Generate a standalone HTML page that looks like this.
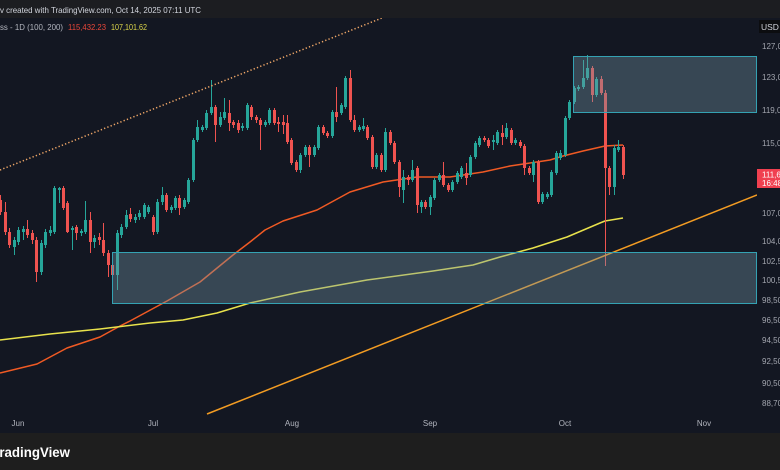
<!DOCTYPE html>
<html><head><meta charset="utf-8"><style>
html,body{margin:0;padding:0;background:#131722;}
svg{display:block;}
text{font-family:"Liberation Sans",sans-serif;}
</style></head><body>
<svg width="780" height="470" viewBox="0 0 780 470" xmlns="http://www.w3.org/2000/svg">
<rect x="0" y="0" width="780" height="470" fill="#131722"/>
<defs><clipPath id="cp"><rect x="0" y="18" width="757" height="415"/></clipPath></defs>

<g clip-path="url(#cp)">
<!-- MA lines -->
<polyline fill="none" stroke="#f05a24" stroke-width="1.5" stroke-linejoin="round" points="0,373 37,364 67,348 100,337 120,326 130,321 167,301 200,282 233,255 250,242 265,230 283,221 317,210 350,192 383,182 417,177 450,177 483,172 510,166 550,160 563,156 583,151 605,146 623,145"/>
<polyline fill="none" stroke="#e8e24c" stroke-width="1.5" stroke-linejoin="round" points="0,340 50,334 100,329 150,323 183,320 217,313 250,303 300,292 367,280 433,271 473,265 500,257 533,248 567,237 600,223 605,221 623,218"/>

<!-- candles teal -->
<g fill="#26a69a">
<rect x="14" y="237" width="1" height="18"/><rect x="13" y="240" width="3" height="7"/>
<rect x="18" y="227" width="1" height="18"/><rect x="17" y="230" width="3" height="12"/>
<rect x="23" y="226" width="1" height="14"/><rect x="22" y="229" width="3" height="3"/>
<rect x="41" y="240" width="1" height="35"/><rect x="40" y="243" width="3" height="29"/>
<rect x="45" y="229" width="1" height="19"/><rect x="44" y="232" width="3" height="13"/>
<rect x="50" y="226" width="1" height="10"/><rect x="49" y="230" width="3" height="3"/>
<rect x="54" y="186" width="1" height="48"/><rect x="53" y="188" width="3" height="44"/>
<rect x="59" y="187" width="1" height="16"/><rect x="58" y="188" width="3" height="2"/>
<rect x="72" y="226" width="1" height="24"/><rect x="71" y="228" width="3" height="2"/>
<rect x="81" y="229" width="1" height="7"/><rect x="80" y="231" width="3" height="2"/>
<rect x="85" y="201" width="1" height="33"/><rect x="84" y="220" width="3" height="12"/>
<rect x="94" y="235" width="1" height="13"/><rect x="93" y="238" width="3" height="4"/>
<rect x="117" y="230" width="1" height="60"/><rect x="116" y="233" width="3" height="42"/>
<rect x="121" y="224" width="1" height="14"/><rect x="120" y="227" width="3" height="8"/>
<rect x="126" y="210" width="1" height="19"/><rect x="125" y="215" width="3" height="12"/>
<rect x="135" y="214" width="1" height="9"/><rect x="134" y="217" width="3" height="3"/>
<rect x="139" y="210" width="1" height="10"/><rect x="138" y="213" width="3" height="4"/>
<rect x="144" y="203" width="1" height="16"/><rect x="143" y="205" width="3" height="12"/>
<rect x="148" y="205" width="1" height="9"/><rect x="147" y="207" width="3" height="5"/>
<rect x="157" y="199" width="1" height="35"/><rect x="156" y="202" width="3" height="30"/>
<rect x="162" y="187" width="1" height="18"/><rect x="161" y="195" width="3" height="7"/>
<rect x="171" y="205" width="1" height="8"/><rect x="170" y="207" width="3" height="3"/>
<rect x="175" y="196" width="1" height="14"/><rect x="174" y="198" width="3" height="10"/>
<rect x="184" y="198" width="1" height="11"/><rect x="183" y="200" width="3" height="7"/>
<rect x="188" y="178" width="1" height="26"/><rect x="187" y="180" width="3" height="22"/>
<rect x="193" y="138" width="1" height="44"/><rect x="192" y="140" width="3" height="40"/>
<rect x="197" y="120" width="1" height="22"/><rect x="196" y="127" width="3" height="13"/>
<rect x="202" y="125" width="1" height="7"/><rect x="201" y="127" width="3" height="3"/>
<rect x="206" y="110" width="1" height="20"/><rect x="205" y="113" width="3" height="15"/>
<rect x="211" y="80" width="1" height="35"/><rect x="210" y="107" width="3" height="6"/>
<rect x="220" y="112" width="1" height="15"/><rect x="219" y="117" width="3" height="8"/>
<rect x="224" y="98" width="1" height="22"/><rect x="223" y="112" width="3" height="6"/>
<rect x="242" y="123" width="1" height="8"/><rect x="241" y="126" width="3" height="2"/>
<rect x="247" y="103" width="1" height="27"/><rect x="246" y="105" width="3" height="23"/>
<rect x="265" y="120" width="1" height="7"/><rect x="264" y="122" width="3" height="3"/>
<rect x="269" y="108" width="1" height="17"/><rect x="268" y="110" width="3" height="13"/>
<rect x="300" y="153" width="1" height="20"/><rect x="299" y="155" width="3" height="15"/>
<rect x="305" y="145" width="1" height="12"/><rect x="304" y="147" width="3" height="8"/>
<rect x="314" y="145" width="1" height="12"/><rect x="313" y="147" width="3" height="8"/>
<rect x="318" y="125" width="1" height="25"/><rect x="317" y="127" width="3" height="21"/>
<rect x="332" y="110" width="1" height="28"/><rect x="331" y="112" width="3" height="24"/>
<rect x="341" y="103" width="1" height="12"/><rect x="340" y="105" width="3" height="8"/>
<rect x="345" y="76" width="1" height="33"/><rect x="344" y="78" width="3" height="29"/>
<rect x="359" y="125" width="1" height="7"/><rect x="358" y="127" width="3" height="3"/>
<rect x="363" y="118" width="1" height="13"/><rect x="362" y="126" width="3" height="3"/>
<rect x="376" y="153" width="1" height="16"/><rect x="375" y="155" width="3" height="12"/>
<rect x="385" y="128" width="1" height="44"/><rect x="384" y="132" width="3" height="38"/>
<rect x="403" y="170" width="1" height="33"/><rect x="402" y="177" width="3" height="13"/>
<rect x="412" y="160" width="1" height="22"/><rect x="411" y="170" width="3" height="10"/>
<rect x="421" y="200" width="1" height="13"/><rect x="420" y="202" width="3" height="5"/>
<rect x="430" y="195" width="1" height="20"/><rect x="429" y="197" width="3" height="10"/>
<rect x="434" y="178" width="1" height="22"/><rect x="433" y="180" width="3" height="18"/>
<rect x="439" y="173" width="1" height="9"/><rect x="438" y="175" width="3" height="5"/>
<rect x="452" y="180" width="1" height="12"/><rect x="451" y="182" width="3" height="8"/>
<rect x="457" y="171" width="1" height="13"/><rect x="456" y="173" width="3" height="9"/>
<rect x="461" y="166" width="1" height="13"/><rect x="460" y="168" width="3" height="9"/>
<rect x="470" y="155" width="1" height="22"/><rect x="469" y="157" width="3" height="18"/>
<rect x="475" y="141" width="1" height="18"/><rect x="474" y="143" width="3" height="14"/>
<rect x="479" y="136" width="1" height="11"/><rect x="478" y="138" width="3" height="7"/>
<rect x="493" y="135" width="1" height="15"/><rect x="492" y="140" width="3" height="2"/>
<rect x="497" y="130" width="1" height="15"/><rect x="496" y="132" width="3" height="11"/>
<rect x="506" y="123" width="1" height="16"/><rect x="505" y="128" width="3" height="9"/>
<rect x="515" y="138" width="1" height="7"/><rect x="514" y="140" width="3" height="3"/>
<rect x="533" y="160" width="1" height="22"/><rect x="532" y="162" width="3" height="13"/>
<rect x="542" y="192" width="1" height="12"/><rect x="541" y="194" width="3" height="8"/>
<rect x="547" y="192" width="1" height="7"/><rect x="546" y="194" width="3" height="3"/>
<rect x="551" y="170" width="1" height="27"/><rect x="550" y="172" width="3" height="23"/>
<rect x="556" y="151" width="1" height="24"/><rect x="555" y="153" width="3" height="20"/>
<rect x="560" y="150" width="1" height="10"/><rect x="559" y="153" width="3" height="5"/>
<rect x="565" y="116" width="1" height="41"/><rect x="564" y="118" width="3" height="37"/>
<rect x="569" y="100" width="1" height="20"/><rect x="568" y="102" width="3" height="16"/>
<rect x="574" y="86" width="1" height="18"/><rect x="573" y="88" width="3" height="14"/>
<rect x="578" y="85" width="1" height="6"/><rect x="577" y="87" width="3" height="2"/>
<rect x="583" y="60" width="1" height="29"/><rect x="582" y="78" width="3" height="9"/>
<rect x="587" y="55" width="1" height="25"/><rect x="586" y="68" width="3" height="10"/>
<rect x="596" y="77" width="1" height="20"/><rect x="595" y="79" width="3" height="16"/>
<rect x="614" y="145" width="1" height="50"/><rect x="613" y="148" width="3" height="39"/>
<rect x="618" y="140" width="1" height="12"/><rect x="617" y="147" width="3" height="3"/>
</g>
<!-- candles red -->
<g fill="#ef5350">
<rect x="0" y="195" width="1" height="20"/><rect x="-1" y="200" width="3" height="12"/>
<rect x="5" y="202" width="1" height="33"/><rect x="4" y="212" width="3" height="20"/>
<rect x="9" y="228" width="1" height="20"/><rect x="8" y="232" width="3" height="13"/>
<rect x="27" y="220" width="1" height="18"/><rect x="26" y="229" width="3" height="6"/>
<rect x="32" y="230" width="1" height="14"/><rect x="31" y="233" width="3" height="7"/>
<rect x="36" y="237" width="1" height="45"/><rect x="35" y="240" width="3" height="32"/>
<rect x="63" y="186" width="1" height="24"/><rect x="62" y="188" width="3" height="20"/>
<rect x="67" y="201" width="1" height="32"/><rect x="66" y="203" width="3" height="29"/>
<rect x="76" y="225" width="1" height="15"/><rect x="75" y="227" width="3" height="6"/>
<rect x="90" y="212" width="1" height="41"/><rect x="89" y="220" width="3" height="22"/>
<rect x="99" y="233" width="1" height="12"/><rect x="98" y="237" width="3" height="3"/>
<rect x="103" y="223" width="1" height="33"/><rect x="102" y="240" width="3" height="13"/>
<rect x="108" y="250" width="1" height="27"/><rect x="107" y="253" width="3" height="12"/>
<rect x="112" y="262" width="1" height="16"/><rect x="111" y="265" width="3" height="10"/>
<rect x="130" y="208" width="1" height="14"/><rect x="129" y="214" width="3" height="5"/>
<rect x="153" y="215" width="1" height="20"/><rect x="152" y="217" width="3" height="15"/>
<rect x="166" y="193" width="1" height="19"/><rect x="165" y="195" width="3" height="15"/>
<rect x="179" y="195" width="1" height="20"/><rect x="178" y="198" width="3" height="10"/>
<rect x="215" y="105" width="1" height="37"/><rect x="214" y="107" width="3" height="18"/>
<rect x="229" y="100" width="1" height="31"/><rect x="228" y="113" width="3" height="10"/>
<rect x="233" y="120" width="1" height="8"/><rect x="232" y="122" width="3" height="3"/>
<rect x="238" y="120" width="1" height="13"/><rect x="237" y="123" width="3" height="7"/>
<rect x="251" y="105" width="1" height="15"/><rect x="250" y="107" width="3" height="10"/>
<rect x="256" y="115" width="1" height="8"/><rect x="255" y="117" width="3" height="3"/>
<rect x="260" y="118" width="1" height="32"/><rect x="259" y="120" width="3" height="5"/>
<rect x="274" y="108" width="1" height="17"/><rect x="273" y="110" width="3" height="13"/>
<rect x="278" y="117" width="1" height="15"/><rect x="277" y="122" width="3" height="2"/>
<rect x="283" y="115" width="1" height="19"/><rect x="282" y="122" width="3" height="3"/>
<rect x="287" y="115" width="1" height="29"/><rect x="286" y="123" width="3" height="19"/>
<rect x="291" y="138" width="1" height="27"/><rect x="290" y="140" width="3" height="23"/>
<rect x="296" y="160" width="1" height="12"/><rect x="295" y="162" width="3" height="8"/>
<rect x="309" y="145" width="1" height="22"/><rect x="308" y="147" width="3" height="8"/>
<rect x="323" y="125" width="1" height="10"/><rect x="322" y="127" width="3" height="6"/>
<rect x="327" y="131" width="1" height="7"/><rect x="326" y="133" width="3" height="3"/>
<rect x="336" y="87" width="1" height="35"/><rect x="335" y="112" width="3" height="5"/>
<rect x="350" y="70" width="1" height="52"/><rect x="349" y="78" width="3" height="42"/>
<rect x="354" y="115" width="1" height="17"/><rect x="353" y="120" width="3" height="10"/>
<rect x="367" y="125" width="1" height="15"/><rect x="366" y="127" width="3" height="11"/>
<rect x="372" y="135" width="1" height="34"/><rect x="371" y="137" width="3" height="30"/>
<rect x="381" y="153" width="1" height="19"/><rect x="380" y="155" width="3" height="15"/>
<rect x="390" y="130" width="1" height="15"/><rect x="389" y="132" width="3" height="11"/>
<rect x="394" y="141" width="1" height="23"/><rect x="393" y="143" width="3" height="19"/>
<rect x="399" y="160" width="1" height="37"/><rect x="398" y="162" width="3" height="25"/>
<rect x="408" y="175" width="1" height="10"/><rect x="407" y="177" width="3" height="3"/>
<rect x="417" y="166" width="1" height="47"/><rect x="416" y="168" width="3" height="37"/>
<rect x="425" y="200" width="1" height="9"/><rect x="424" y="202" width="3" height="5"/>
<rect x="443" y="162" width="1" height="25"/><rect x="442" y="175" width="3" height="10"/>
<rect x="448" y="183" width="1" height="9"/><rect x="447" y="185" width="3" height="5"/>
<rect x="466" y="163" width="1" height="22"/><rect x="465" y="173" width="3" height="5"/>
<rect x="484" y="136" width="1" height="6"/><rect x="483" y="138" width="3" height="2"/>
<rect x="488" y="138" width="1" height="10"/><rect x="487" y="140" width="3" height="6"/>
<rect x="502" y="125" width="1" height="20"/><rect x="501" y="133" width="3" height="4"/>
<rect x="511" y="128" width="1" height="17"/><rect x="510" y="130" width="3" height="13"/>
<rect x="520" y="140" width="1" height="8"/><rect x="519" y="142" width="3" height="4"/>
<rect x="524" y="144" width="1" height="31"/><rect x="523" y="146" width="3" height="22"/>
<rect x="529" y="166" width="1" height="9"/><rect x="528" y="168" width="3" height="5"/>
<rect x="538" y="160" width="1" height="44"/><rect x="537" y="162" width="3" height="40"/>
<rect x="592" y="66" width="1" height="36"/><rect x="591" y="68" width="3" height="27"/>
<rect x="601" y="76" width="1" height="19"/><rect x="600" y="79" width="3" height="14"/>
<rect x="605" y="90" width="1" height="176"/><rect x="604" y="93" width="3" height="75"/>
<rect x="609" y="166" width="1" height="29"/><rect x="608" y="168" width="3" height="19"/>
<rect x="623" y="145" width="1" height="34"/><rect x="622" y="147" width="3" height="28"/>
</g>

<!-- trend lines -->
<line x1="0" y1="170" x2="392" y2="14" stroke="#eea667" stroke-width="1.5" stroke-dasharray="1.3 2.2"/>
<line x1="207" y1="414" x2="757" y2="195" stroke="#f39c23" stroke-width="1.5"/>

<!-- boxes -->
<rect x="573.5" y="56.5" width="183" height="56" fill="rgba(115,150,165,0.38)" stroke="#34a2b3" stroke-width="1"/>
<rect x="112.5" y="252.5" width="644" height="51" fill="rgba(115,150,165,0.38)" stroke="#34a2b3" stroke-width="1"/>
</g>

<!-- top bar -->
<rect x="0" y="0" width="780" height="18" fill="#1c1d21"/>
<text x="0" y="13" font-size="8.5" fill="#d1d4dc" textLength="201" lengthAdjust="spacingAndGlyphs">v created with TradingView.com, Oct 14, 2025 07:11 UTC</text>

<!-- legend -->
<text x="0" y="30" font-size="8.5" fill="#b2b5be" textLength="63" lengthAdjust="spacingAndGlyphs">ss - 1D (100, 200)</text>
<text x="68" y="30" font-size="8.5" fill="#e8473a" textLength="38" lengthAdjust="spacingAndGlyphs">115,432.23</text>
<text x="111" y="30" font-size="8.5" fill="#dcd64a" textLength="36" lengthAdjust="spacingAndGlyphs">107,101.62</text>

<!-- right axis -->
<rect x="759" y="20" width="21" height="13" fill="#0c0d10"/>
<text x="761" y="30" font-size="8.5" fill="#d1d4dc">USD</text>
<g font-size="8" fill="#a3a6af">
<text x="762" y="49">127,000.00</text>
<text x="762" y="80">123,000.00</text>
<text x="762" y="113">119,000.00</text>
<text x="762" y="146">115,000.00</text>
<text x="762" y="216">107,000.00</text>
<text x="762" y="244">104,000.00</text>
<text x="762" y="264">102,500.00</text>
<text x="762" y="283">100,500.00</text>
<text x="762" y="303">98,500.00</text>
<text x="762" y="323">96,500.00</text>
<text x="762" y="343">94,500.00</text>
<text x="762" y="364">92,500.00</text>
<text x="762" y="386">90,500.00</text>
<text x="762" y="406">88,700.00</text>
</g>
<rect x="757" y="169" width="23" height="19" fill="#f04050"/>
<text x="762" y="177.5" font-size="8" fill="#ffffff">111,605.00</text>
<text x="762" y="186" font-size="8" fill="#ffffff">16:48:12</text>

<!-- time axis -->
<g font-size="8" fill="#b2b5be" text-anchor="middle">
<text x="18" y="426">Jun</text>
<text x="153" y="426">Jul</text>
<text x="292" y="426">Aug</text>
<text x="430" y="426">Sep</text>
<text x="565" y="426">Oct</text>
<text x="704" y="426">Nov</text>
</g>

<!-- bottom bar -->
<rect x="0" y="433" width="780" height="37" fill="#1e1e1e"/>
<text x="-8" y="457" font-size="14" font-weight="bold" fill="#ffffff" textLength="78" lengthAdjust="spacingAndGlyphs">TradingView</text>
</svg>
</body></html>
